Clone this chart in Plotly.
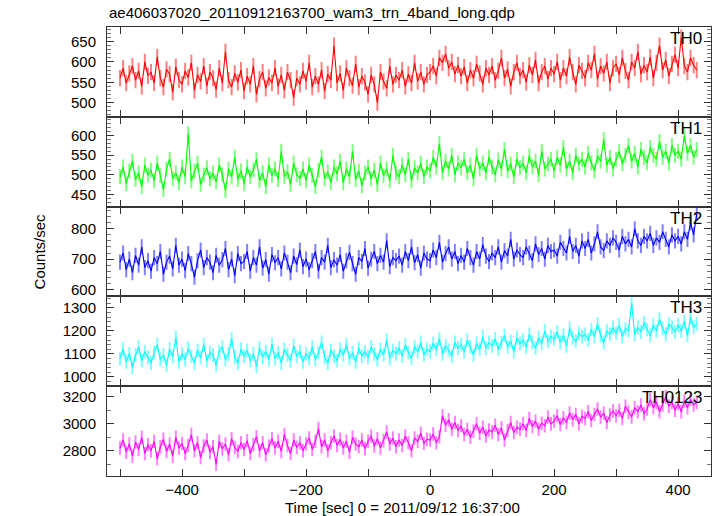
import numpy as np
import plotly.graph_objects as go
from plotly.subplots import make_subplots

# Time bins (sec from 2011/09/12 16:37:00), 5 s resolution
time_sec = np.arange(-500, 431, 5)

th0 = [560, 585, 548, 572, 590, 555, 578, 540, 600, 566,
       575, 548, 612, 560, 538, 582, 570, 525, 588, 556,
       545, 578, 562, 598, 530, 568, 552, 590, 541, 575,
       560, 532, 585, 548, 625, 555, 538, 572, 550, 580,
       528, 565, 545, 590, 520, 558, 575, 535, 562, 548,
       585, 540, 568, 530, 575, 555, 512, 560, 545, 578,
       552, 598, 538, 565, 545, 580, 528, 570, 555, 640,
       548, 572, 530, 585, 560, 542, 595, 538, 565, 550,
       520, 568, 545, 500, 575, 552, 535, 590, 545, 568,
       555, 580, 540, 570, 548, 598, 552, 575, 545, 568,
       575, 590, 565, 610, 598, 620, 585, 600, 570, 592,
       565, 588, 548, 580, 560, 595, 572, 545, 585, 568,
       590, 555, 578, 610, 560, 582, 540, 575, 598, 565,
       580, 550, 592, 568, 605, 548, 575, 590, 558, 585,
       570, 600, 555, 585, 565, 612, 575, 545, 592, 578,
       560, 598, 580, 620, 558, 590, 572, 600, 548, 585,
       595, 568, 610, 578, 555, 600, 585, 625, 570, 592,
       575, 612, 560, 598, 640, 580, 605, 565, 595, 618,
       585, 660, 590, 575, 610, 592, 580]

th1 = [495, 520, 478, 510, 535, 488, 505, 470, 525, 500,
       512, 485, 530, 498, 462, 515, 540, 490, 505, 480,
       520, 495, 605, 485, 510, 530, 475, 500, 518, 490,
       505, 482, 525, 500, 460, 515, 495, 545, 488, 510,
       478, 520, 495, 512, 540, 485, 505, 470, 525, 498,
       515, 488, 560, 495, 508, 475, 530, 500, 490, 515,
       485, 525, 498, 470, 512, 545, 490, 508, 480, 520,
       502, 535, 480, 515, 495, 560, 488, 510, 472, 505,
       520, 490, 512, 475, 530, 498, 515, 485, 550, 505,
       495, 525, 500, 540, 485, 518, 505, 530, 495, 520,
       510, 545, 520, 580, 505, 535, 515, 550, 500, 530,
       518, 540, 505, 525, 490, 550, 515, 530, 505, 545,
       520, 500, 538, 515, 565, 510, 528, 495, 540, 518,
       530, 505, 548, 520, 535, 500, 560, 515, 528, 540,
       510, 545, 525, 570, 515, 535, 505, 550, 528, 540,
       520, 555, 530, 510, 548, 535, 590, 525, 545, 515,
       540, 560, 528, 550, 575, 535, 555, 520, 565, 545,
       530, 570, 550, 540, 585, 545, 560, 530, 575, 550,
       560, 540, 600, 555, 575, 545, 565]

th2 = [690, 720, 665, 700, 655, 712, 680, 740, 672, 695,
       660, 705, 685, 725, 650, 690, 710, 668, 745, 680,
       700, 662, 718, 685, 640, 695, 730, 672, 705, 690,
       655, 712, 680, 698, 735, 665, 700, 645, 718, 685,
       692, 725, 660, 705, 680, 740, 670, 698, 650, 715,
       688, 705, 668, 720, 690, 655, 710, 682, 730, 675,
       700, 665, 695, 725, 660, 705, 690, 745, 672, 698,
       680, 715, 660, 695, 722, 685, 650, 705, 692, 735,
       670, 700, 725, 685, 712, 690, 760, 675, 705, 695,
       710, 680, 725, 695, 740, 688, 715, 670, 720, 700,
       695, 730, 705, 755, 690, 718, 740, 700, 725, 685,
       712, 690, 735, 705, 680, 725, 700, 748, 710, 692,
       720, 705, 740, 690, 728, 710, 765, 700, 730, 715,
       705, 740, 720, 695, 750, 715, 735, 700, 745, 725,
       730, 710, 755, 735, 720, 775, 725, 745, 710, 760,
       735, 765, 720, 750, 790, 740, 728, 760, 745, 770,
       755, 730, 775, 750, 765, 740, 800, 760, 745, 775,
       760, 785, 745, 770, 755, 790, 765, 740, 780, 760,
       775, 750, 790, 765, 820, 780, 850]

th3 = [1080, 1120, 1065, 1100, 1040, 1095, 1130, 1070, 1110, 1085,
       1060, 1105, 1140, 1075, 1095, 1050, 1120, 1088, 1170, 1065,
       1100, 1075, 1125, 1090, 1060, 1115, 1082, 1140, 1070, 1105,
       1095, 1050, 1110, 1130, 1075, 1100, 1165, 1085, 1060, 1120,
       1090, 1115, 1070, 1100, 1045, 1125, 1085, 1110, 1075, 1140,
       1080, 1105, 1060, 1120, 1095, 1070, 1135, 1088, 1110, 1065,
       1100, 1080, 1130, 1075, 1105, 1150, 1085, 1060, 1115, 1090,
       1070, 1120, 1095, 1140, 1080, 1105, 1065, 1125, 1090, 1110,
       1085, 1130, 1100, 1075, 1120, 1095, 1160, 1080, 1115, 1100,
       1125, 1090, 1140, 1105, 1080, 1130, 1110, 1150, 1095, 1120,
       1110, 1145, 1120, 1165, 1100, 1135, 1115, 1090, 1150, 1125,
       1140, 1110, 1160, 1130, 1095, 1145, 1120, 1175, 1125, 1150,
       1135, 1165, 1120, 1150, 1180, 1130, 1155, 1110, 1170, 1145,
       1160, 1130, 1185, 1150, 1125, 1170, 1145, 1200, 1155, 1175,
       1165, 1195, 1150, 1180, 1135, 1210, 1170, 1155, 1190, 1175,
       1185, 1160, 1205, 1175, 1230, 1180, 1150, 1200, 1185, 1215,
       1190, 1225, 1175, 1210, 1200, 1320, 1185, 1215, 1195, 1235,
       1205, 1180, 1225, 1200, 1250, 1210, 1185, 1230, 1215, 1195,
       1225, 1200, 1240, 1180, 1260, 1215, 1230]

th0123 = [2820, 2880, 2790, 2850, 2760, 2865, 2810, 2900, 2780, 2845,
          2800, 2870, 2740, 2830, 2885, 2795, 2850, 2760, 2900, 2820,
          2855, 2780, 2840, 2920, 2800, 2860, 2750, 2835, 2880, 2790,
          2830, 2700, 2870, 2815, 2850, 2770, 2890, 2825, 2795, 2860,
          2810, 2875, 2780, 2845, 2905, 2800, 2860, 2770, 2835, 2890,
          2820, 2870, 2795, 2920, 2840, 2780, 2880, 2825, 2860, 2800,
          2850, 2895, 2810, 2870, 2965, 2830, 2880, 2800, 2860, 2910,
          2840, 2885, 2820, 2870, 2790, 2900, 2850, 2830, 2880, 2815,
          2870, 2910, 2835, 2890, 2820, 2875, 2940, 2850, 2895, 2830,
          2880, 2840, 2910, 2860, 2800, 2895, 2870, 2930, 2855, 2885,
          2880, 2925, 2860, 2905, 3060, 2990, 3030, 2960, 3010, 2950,
          2985, 2920, 2960, 2900, 2945, 3000, 2930, 2975, 2910, 2955,
          2940, 2990, 2920, 2970, 2880, 2950, 3010, 2935, 2975, 2960,
          3000, 2950, 3040, 2980, 3020, 2960, 3005, 2985, 3050, 3000,
          3020, 3060, 2995, 3045, 3010, 3080, 3030, 3070, 3000, 3055,
          3040, 3090, 3025, 3070, 3110, 3050, 3080, 3010, 3065, 3095,
          3060, 3100, 3040, 3130, 3085, 3050, 3120, 3090, 3140, 3075,
          3110, 3180, 3120, 3160, 3090, 3140, 3200, 3130, 3160, 3100,
          3150, 3090, 3170, 3120, 3180, 3140, 3160]

band_names = ["TH0", "TH1", "TH2", "TH3", "TH0123"]
band_errors = [20, 19, 25, 30, 50]
y_ranges = [[465, 686], [419, 648], [577, 873], [959, 1350], [2613, 3279]]
y_dticks = [50, 50, 100, 100, 200]
y_minor = [10, 10, 20, 20, 100]
x_range = [-521, 453]

series = [th0, th1, th2, th3, th0123]
colors = ["#ff0000", "#00ff00", "#0000ff", "#00ffff", "#ff00ff"]
err_colors = ["rgba(255,0,0,0.5)", "rgba(0,255,0,0.5)", "rgba(0,0,255,0.5)",
              "rgba(0,255,255,0.5)", "rgba(255,0,255,0.5)"]

FONT = "Liberation Sans, Arial, Helvetica, sans-serif"

fig = make_subplots(rows=5, cols=1, shared_xaxes=True, vertical_spacing=0)

for i, (vals, c, ec, err) in enumerate(zip(series, colors, err_colors, band_errors)):
    fig.add_trace(go.Scatter(
        x=time_sec, y=vals, mode="lines",
        line=dict(color=c, width=1.1),
        error_y=dict(type="constant", value=err, color=ec, thickness=2, width=0),
        showlegend=False, hoverinfo="skip"), row=i + 1, col=1)

for i in range(5):
    r = i + 1
    fig.update_yaxes(range=y_ranges[i], dtick=y_dticks[i], row=r, col=1,
                     automargin=False,
                     showline=True, linecolor="#333", linewidth=1, mirror="ticks",
                     ticks="inside", ticklen=7, tickcolor="#333", tickwidth=1,
                     minor=dict(dtick=y_minor[i], ticks="inside", ticklen=4,
                                tickcolor="#777", tickwidth=1),
                     showgrid=False, zeroline=False,
                     tickfont=dict(family=FONT, size=15, color="#000"),
                     ticklabelstandoff=7)
    fig.update_xaxes(range=x_range, dtick=200, row=r, col=1,
                     automargin=False,
                     showline=True, linecolor="#333", linewidth=1, mirror="ticks",
                     ticks="inside", ticklen=7, tickcolor="#333", tickwidth=1,
                     minor=dict(dtick=100, ticks="inside", ticklen=7,
                                tickcolor="#333", tickwidth=1),
                     showgrid=False, zeroline=False,
                     tickfont=dict(family=FONT, size=15, color="#000"),
                     ticklabelstandoff=0)

# Panel labels
for i, name in enumerate(band_names):
    yref = "y domain" if i == 0 else f"y{i + 1} domain"
    xref = "x domain" if i == 0 else f"x{i + 1} domain"
    fig.add_annotation(text=name, xref=xref, yref=yref, x=0.988, y=1.0,
                       xanchor="right", yanchor="top", showarrow=False,
                       font=dict(family=FONT, size=17, color="#000"))

fig.add_annotation(text="Counts/sec", xref="paper", yref="paper",
                   x=-0.111, y=0.5, textangle=-90, showarrow=False,
                   xanchor="center", yanchor="middle",
                   font=dict(family=FONT, size=15, color="#000"))
fig.add_annotation(text="Time [sec] 0 = 2011/09/12 16:37:00", xref="paper", yref="paper",
                   x=0.49, y=-0.046, showarrow=False, xanchor="center", yanchor="top",
                   font=dict(family=FONT, size=15, color="#000"))
fig.add_annotation(text="ae406037020_20110912163700_wam3_trn_4band_long.qdp",
                   xref="paper", yref="paper", x=0.0, y=1.0, yshift=4,
                   showarrow=False, xanchor="left", yanchor="bottom",
                   font=dict(family=FONT, size=15, color="#000"))

fig.update_layout(width=717, height=516,
                  margin=dict(l=107, r=6, t=27, b=40, autoexpand=False),
                  paper_bgcolor="white", plot_bgcolor="white",
                  showlegend=False)

fig.write_html("out.html", config={"displayModeBar": False},
               post_script="document.body.style.margin='0';document.body.style.overflow='hidden';")
